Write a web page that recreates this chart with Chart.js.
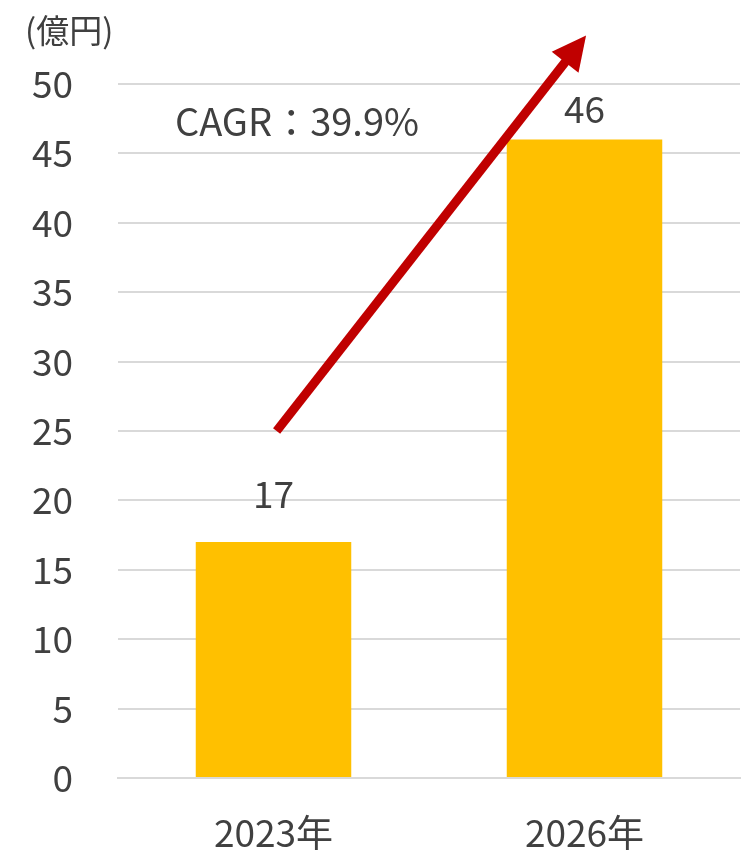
<!DOCTYPE html>
<html>
<head>
<meta charset="utf-8">
<script src="https://cdn.jsdelivr.net/npm/chart.js@4.4.1/dist/chart.umd.min.js"></script>
<style>
  html, body { margin: 0; padding: 0; background: #ffffff; }
  #wrap { width: 756px; height: 854px; }
</style>
</head>
<body>
<div id="wrap"><canvas id="c" width="756" height="854"></canvas></div>
<script>
// ---- data ----
const categories = ['2023年', '2026年'];
const marketValues = [17, 46];
const unitLabel = '(億円)';
const cagrText = 'CAGR：39.9%';
const arrowStart = [0.01, 25];   // [category index, value]
const arrowEnd = [1.005, 53.5];
const cagrPos = [-0.317, 47.3];
const yMin = 0, yMax = 50, yStep = 5;

const FONT = '"Noto Sans CJK JP", "Noto Sans", sans-serif';
const TEXT = '#404040';

const overlay = {
  id: 'overlay',
  afterDatasetsDraw(chart) {
    const ctx = chart.ctx;
    const xs = chart.scales.x, ys = chart.scales.y;
    ctx.save();
    // data labels
    const offs = [48, 31];
    ctx.fillStyle = TEXT;
    ctx.font = '37px ' + FONT;
    ctx.textAlign = 'center';
    ctx.textBaseline = 'middle';
    const meta = chart.getDatasetMeta(0);
    meta.data.forEach((bar, i) => {
      ctx.fillText(String(marketValues[i]), bar.x, bar.y - offs[i]);
    });
    // CAGR text
    ctx.textAlign = 'left';
    ctx.font = '38px ' + FONT;
    ctx.fillText(cagrText, xs.getPixelForValue(cagrPos[0]), ys.getPixelForValue(cagrPos[1]));
    // unit label
    ctx.font = '33px ' + FONT;
    ctx.fillText(unitLabel, 25, 30);
    // arrow
    const x0 = xs.getPixelForValue(arrowStart[0]), y0 = ys.getPixelForValue(arrowStart[1]);
    const x1 = xs.getPixelForValue(arrowEnd[0]), y1 = ys.getPixelForValue(arrowEnd[1]);
    const ang = Math.atan2(y1 - y0, x1 - x0);
    const headLen = 34, headHalf = 17;
    const bx = x1 - headLen * Math.cos(ang), by = y1 - headLen * Math.sin(ang);
    ctx.strokeStyle = '#c00000';
    ctx.fillStyle = '#c00000';
    ctx.lineWidth = 9;
    ctx.lineCap = 'butt';
    ctx.beginPath();
    ctx.moveTo(x0, y0);
    ctx.lineTo(bx + 2 * Math.cos(ang), by + 2 * Math.sin(ang));
    ctx.stroke();
    ctx.beginPath();
    ctx.moveTo(x1, y1);
    ctx.lineTo(bx + headHalf * Math.sin(ang), by - headHalf * Math.cos(ang));
    ctx.lineTo(bx - headHalf * Math.sin(ang), by + headHalf * Math.cos(ang));
    ctx.closePath();
    ctx.fill();
    ctx.restore();
  }
};

new Chart(document.getElementById('c'), {
  type: 'bar',
  data: {
    labels: categories,
    datasets: [{
      data: marketValues,
      backgroundColor: '#ffc000',
      borderWidth: 0,
      categoryPercentage: 1.0,
      barPercentage: 0.5
    }]
  },
  options: {
    responsive: false,
    animation: false,
    devicePixelRatio: 1,
    layout: { padding: { top: 84, right: 16, left: 0, bottom: 0 } },
    plugins: { legend: { display: false }, tooltip: { enabled: false } },
    scales: {
      x: {
        grid: { display: false, drawTicks: false },
        border: { display: true, color: '#d9d9d9', width: 2 },
        ticks: { color: TEXT, font: { family: FONT, size: 37 }, padding: 33 },
        afterFit(s) { s.height = 76; }
      },
      y: {
        min: yMin, max: yMax,
        grid: { color: '#d9d9d9', lineWidth: 2, drawTicks: false },
        border: { display: false },
        ticks: { stepSize: yStep, color: TEXT, font: { family: FONT, size: 37 }, padding: 45 },
        afterFit(s) { s.width = 118; }
      }
    }
  },
  plugins: [overlay]
});
</script>
</body>
</html>
